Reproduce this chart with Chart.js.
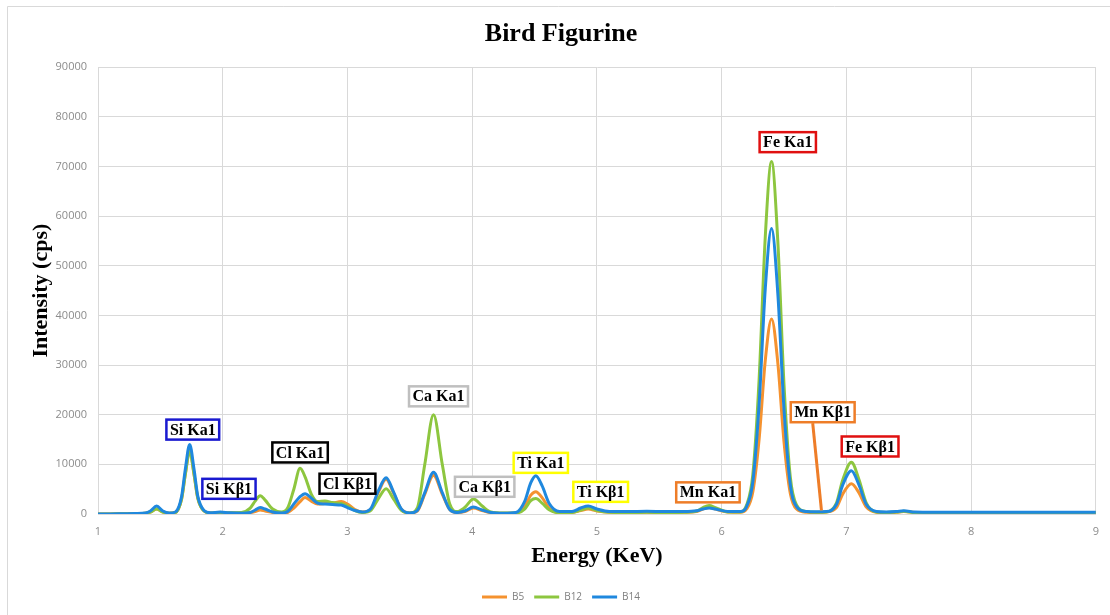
<!DOCTYPE html>
<html>
<head>
<meta charset="utf-8">
<title>Bird Figurine</title>
<script src="https://cdn.jsdelivr.net/npm/chart.js@4.4.1/dist/chart.umd.min.js"></script>
<style>
  html, body { margin: 0; padding: 0; background: #fff; }
  #wrap { position: relative; width: 1110px; height: 615px; }
</style>
</head>
<body>
<div id="wrap"><canvas id="xrfChart" width="1110" height="615"></canvas></div>
<script>
// Energy (keV) sample points
const energy = [
    1.00, 1.10, 1.20, 1.30, 1.38, 1.42, 1.47, 1.52, 1.57, 1.62,
    1.67, 1.70, 1.735, 1.77, 1.80, 1.85, 1.90, 1.98, 2.05, 2.15,
    2.22, 2.26, 2.30, 2.34, 2.40, 2.47, 2.52, 2.57, 2.62, 2.66,
    2.71, 2.76, 2.82, 2.88, 2.95, 3.00, 3.06, 3.12, 3.19, 3.25,
    3.31, 3.37, 3.43, 3.50, 3.56, 3.62, 3.69, 3.76, 3.82, 3.88,
    3.94, 4.01, 4.08, 4.15, 4.25, 4.35, 4.42, 4.47, 4.51, 4.56,
    4.62, 4.70, 4.80, 4.87, 4.93, 5.00, 5.10, 5.25, 5.40, 5.55,
    5.70, 5.80, 5.85, 5.90, 5.95, 6.05, 6.15, 6.20, 6.25, 6.30,
    6.35, 6.40, 6.45, 6.50, 6.55, 6.60, 6.68, 6.76, 6.84, 6.92,
    6.97, 7.04, 7.10, 7.16, 7.24, 7.32, 7.40, 7.46, 7.55, 7.70,
    7.90, 8.10, 8.30, 8.50, 8.70, 8.90, 9.00
];

// Intensity (cps) per sample
const b5 = [
    0, 0, 50, 100, 150, 400, 1000, 400, 150, 300,
    3000, 8000, 12800, 8000, 3200, 600, 200, 300, 250, 200,
    300, 500, 800, 600, 300, 150, 300, 1200, 2500, 3300,
    2600, 2000, 2100, 2200, 2500, 2000, 900, 400, 1000, 4500,
    7000, 4200, 1000, 200, 600, 4000, 7800, 4000, 900, 300,
    500, 1200, 700, 250, 150, 200, 1500, 3800, 4500, 3300,
    1100, 300, 300, 700, 1000, 600, 350, 300, 350, 300,
    350, 500, 1000, 1300, 1000, 400, 350, 1000, 4500, 15000,
    31000, 39300, 30500, 14500, 4200, 1000, 350, 300, 400, 1300,
    4000, 6100, 4300, 1400, 350, 250, 350, 500, 300, 250,
    250, 250, 250, 250, 250, 250, 250
];

const b12 = [
    0, 0, 50, 100, 150, 400, 1000, 400, 150, 300,
    3000, 8000, 12700, 8000, 3200, 600, 200, 300, 250, 300,
    1200, 2600, 3700, 2800, 1000, 400, 1200, 5000, 9200, 7500,
    4000, 2500, 2600, 2300, 2100, 1600, 700, 300, 800, 3200,
    5100, 3000, 800, 200, 1200, 10000, 20000, 10000, 2000, 500,
    1300, 3000, 1600, 400, 200, 200, 1000, 2700, 3100, 2200,
    800, 250, 300, 800, 1200, 700, 350, 300, 350, 300,
    350, 600, 1300, 1700, 1300, 400, 400, 1800, 8000, 27000,
    56000, 71000, 55000, 26000, 7500, 1800, 500, 350, 400, 2200,
    6800, 10400, 7000, 2200, 400, 300, 400, 550, 300, 250,
    250, 250, 250, 250, 250, 250, 250
];

const b14 = [
    0, 0, 50, 100, 200, 600, 1600, 600, 200, 400,
    3500, 9000, 14000, 9000, 3600, 700, 250, 400, 250, 150,
    300, 800, 1300, 1000, 400, 200, 500, 2000, 3500, 4100,
    3200, 2200, 2000, 1900, 1800, 1300, 700, 400, 1200, 4800,
    7300, 4400, 1100, 200, 700, 4300, 8400, 4300, 900, 300,
    600, 1400, 800, 300, 150, 300, 2500, 6300, 7700, 5700,
    2000, 500, 500, 1200, 1600, 1000, 500, 500, 550, 500,
    500, 650, 1000, 1200, 1000, 500, 500, 1500, 6500, 22000,
    45500, 57500, 44500, 21000, 6000, 1500, 500, 450, 500, 1900,
    5800, 8700, 5900, 1900, 500, 400, 500, 650, 400, 350,
    350, 350, 350, 350, 350, 350, 350
];

// Peak labels (energy, intensity where the label sits)
const peakNames = ['Si Ka1', 'Si K\u03b21', 'Cl Ka1', 'Cl K\u03b21', 'Ca Ka1', 'Ca K\u03b21',
    'Ti Ka1', 'Ti K\u03b21', 'Mn Ka1', 'Fe Ka1', 'Mn K\u03b21', 'Fe K\u03b21'];
const peakEnergy = [1.76, 2.05, 2.62, 3.00, 3.73, 4.10, 4.55, 5.03, 5.89, 6.53, 6.81, 7.19];
const peakLabelY = [17000, 5070, 12400, 6100, 23700, 5480, 10300, 4460, 4360, 74900, 20500, 13600];
const peakColors = ['#1a1ad0', '#1a1ad0', '#000000', '#000000', '#bfbfbf', '#bfbfbf',
    '#ffff00', '#ffff00', '#ee7d28', '#e01010', '#ee7d28', '#e01010'];

// Leader line from the Mn Kb1 label down to the spectrum
const leaderFrom = { x: 6.73, y: 18300 };
const leaderTo = { x: 6.80, y: 750 };

const seriesNames = ['B5', 'B12', 'B14'];
const seriesColors = ['#f5922f', '#8dc63f', '#1f88de'];

const toPoints = vals => vals.map((v, i) => ({ x: energy[i], y: v }));

const frameAndLabels = {
    id: 'frameAndLabels',
    beforeDraw(chart) {
        const ctx = chart.ctx;
        ctx.save();
        ctx.fillStyle = '#fff';
        ctx.fillRect(0, 0, chart.width, chart.height);
        ctx.strokeStyle = '#d9d9d9';
        ctx.lineWidth = 1;
        ctx.beginPath();
        ctx.moveTo(7.5, chart.height);
        ctx.lineTo(7.5, 6.5);
        ctx.lineTo(chart.width, 6.5);
        ctx.stroke();
        ctx.restore();
    },
    afterDatasetsDraw(chart) {
        const ctx = chart.ctx;
        const xs = chart.scales.x, ys = chart.scales.y;
        ctx.save();
        // leader line
        ctx.strokeStyle = '#ee7d28';
        ctx.lineWidth = 3;
        ctx.beginPath();
        ctx.moveTo(xs.getPixelForValue(leaderFrom.x), ys.getPixelForValue(leaderFrom.y));
        ctx.lineTo(xs.getPixelForValue(leaderTo.x), ys.getPixelForValue(leaderTo.y));
        ctx.stroke();

        ctx.font = 'bold 16px "Liberation Serif", "Times New Roman", serif';
        ctx.textAlign = 'center';
        ctx.textBaseline = 'middle';
        peakNames.forEach((name, i) => {
            const cx = xs.getPixelForValue(peakEnergy[i]);
            const cy = ys.getPixelForValue(peakLabelY[i]);
            const w = ctx.measureText(name).width + 7;
            const h = 20;
            ctx.fillStyle = '#fff';
            ctx.fillRect(cx - w / 2, cy - h / 2, w, h);
            ctx.strokeStyle = peakColors[i];
            ctx.lineWidth = 2.5;
            ctx.strokeRect(cx - w / 2, cy - h / 2, w, h);
            ctx.fillStyle = '#000';
            ctx.fillText(name, cx, cy + 1);
        });
        ctx.restore();
    }
};

new Chart(document.getElementById('xrfChart'), {
    type: 'line',
    data: {
        datasets: seriesNames.map((name, i) => ({
            label: name,
            data: toPoints([b5, b12, b14][i]),
            borderColor: seriesColors[i],
            backgroundColor: seriesColors[i],
            borderWidth: 3,
            pointRadius: 0,
            fill: false,
            cubicInterpolationMode: 'monotone',
            order: 2 - i
        }))
    },
    options: {
        responsive: false,
        animation: false,
        layout: { padding: { left: 25, right: 13, top: 8, bottom: 3 } },
        plugins: {
            title: {
                display: true,
                text: 'Bird Figurine',
                color: '#000',
                font: { family: '"Liberation Serif", "Times New Roman", serif', size: 26, weight: 'bold' },
                padding: { top: 11, bottom: 17 }
            },
            legend: {
                position: 'bottom',
                labels: {
                    usePointStyle: true,
                    pointStyle: 'line',
                    pointStyleWidth: 25,
                    boxHeight: 10,
                    padding: 10,
                    color: '#7f7f7f',
                    font: { family: '"Open Sans", "Liberation Sans", sans-serif', size: 10 },
                    sort: (a, b) => a.datasetIndex - b.datasetIndex
                }
            },
            tooltip: { enabled: false }
        },
        scales: {
            x: {
                type: 'linear',
                min: 1,
                max: 9,
                ticks: {
                    stepSize: 1,
                    padding: 11,
                    color: '#8c8c8c',
                    font: { family: '"Open Sans", "Liberation Sans", sans-serif', size: 11 }
                },
                grid: { color: '#d9d9d9', drawTicks: false },
                border: { color: '#d9d9d9' },
                title: {
                    display: true,
                    text: 'Energy (KeV)',
                    color: '#000',
                    font: { family: '"Liberation Serif", "Times New Roman", serif', size: 22, weight: 'bold' },
                    padding: { top: 0, bottom: 12 }
                },
                afterFit: s => { s.height = 68; }
            },
            y: {
                min: 0,
                max: 90000,
                ticks: {
                    stepSize: 10000,
                    padding: 11,
                    color: '#8c8c8c',
                    font: { family: '"Open Sans", "Liberation Sans", sans-serif', size: 11 },
                    callback: v => String(v)
                },
                grid: { color: '#d9d9d9', drawTicks: false },
                border: { color: '#d9d9d9' },
                title: {
                    display: true,
                    text: 'Intensity (cps)',
                    color: '#000',
                    font: { family: '"Liberation Serif", "Times New Roman", serif', size: 22, weight: 'bold' },
                    padding: { top: 3, bottom: 0 }
                },
                afterFit: s => { s.width = 73; }
            }
        }
    },
    plugins: [frameAndLabels]
});
</script>
</body>
</html>
